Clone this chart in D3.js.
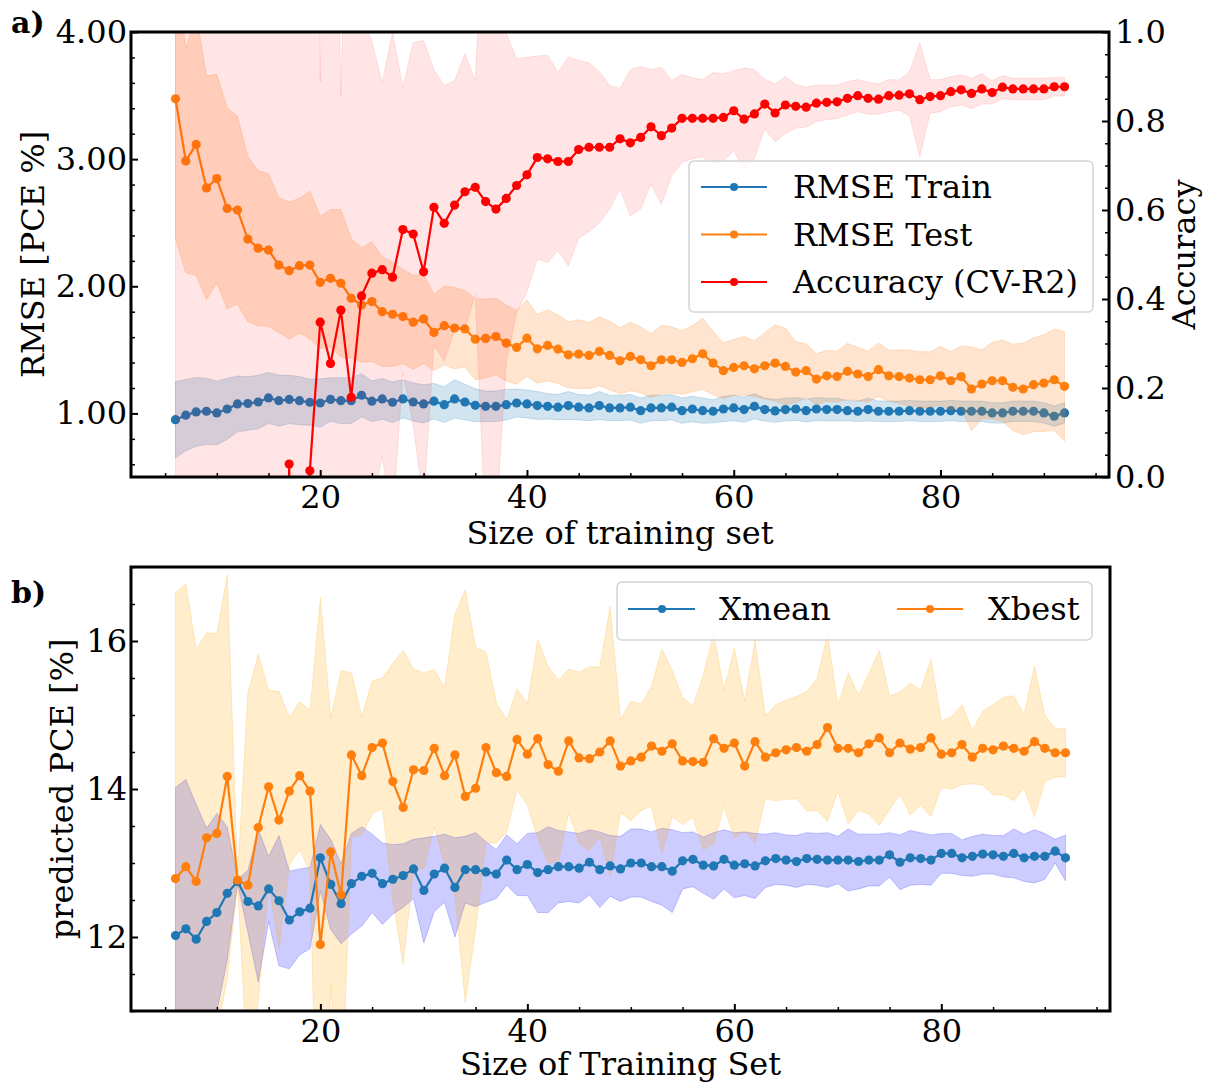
<!DOCTYPE html>
<html><head><meta charset="utf-8">
<script src="https://cdn.jsdelivr.net/npm/d3@7"></script>
<style>
body{margin:0;background:#fff}
svg{display:block}
text{font-family:"DejaVu Serif",serif;fill:#000}
</style>
</head><body>
<svg id="c" width="1208" height="1086"></svg>
<script>
// ---------- data ----------
const trainingSizes = [6,7,8,9,10,11,12,13,14,15,16,17,18,19,20,21,22,23,24,25,26,27,28,29,30,31,32,33,34,35,36,37,38,39,40,41,42,43,44,45,46,47,48,49,50,51,52,53,54,55,56,57,58,59,60,61,62,63,64,65,66,67,68,69,70,71,72,73,74,75,76,77,78,79,80,81,82,83,84,85,86,87,88,89,90,91,92];

const rmseTrain = [0.951,0.986,1.012,1.017,1.004,1.035,1.075,1.078,1.090,1.122,
 1.100,1.110,1.100,1.088,1.082,1.110,1.100,1.100,1.143,1.096,
 1.114,1.088,1.114,1.090,1.075,1.096,1.069,1.114,1.090,1.064,
 1.056,1.056,1.069,1.082,1.075,1.062,1.056,1.049,1.062,1.049,
 1.043,1.062,1.043,1.043,1.049,1.022,1.043,1.043,1.049,1.022,
 1.035,1.022,1.017,1.035,1.043,1.030,1.056,1.030,1.020,1.030,
 1.035,1.022,1.035,1.030,1.030,1.022,1.017,1.030,1.017,1.017,
 1.017,1.022,1.017,1.017,1.017,1.022,1.017,1.017,1.017,1.004,
 1.004,1.017,1.017,1.017,1.004,0.978,1.004];
const rmseTrainStd = [0.30,0.28,0.27,0.26,0.25,0.24,0.22,0.21,0.21,0.20,
 0.20,0.19,0.19,0.18,0.19,0.17,0.18,0.18,0.17,0.16,
 0.16,0.16,0.15,0.15,0.15,0.14,0.14,0.15,0.14,0.13,
 0.12,0.12,0.12,0.11,0.11,0.11,0.10,0.10,0.11,0.10,
 0.10,0.11,0.10,0.10,0.10,0.10,0.10,0.10,0.10,0.10,
 0.10,0.10,0.09,0.10,0.10,0.10,0.10,0.09,0.09,0.09,
 0.09,0.09,0.09,0.09,0.09,0.08,0.08,0.09,0.08,0.08,
 0.08,0.08,0.08,0.08,0.08,0.08,0.08,0.08,0.08,0.08,
 0.08,0.08,0.08,0.08,0.08,0.08,0.08];

const rmseTest = [3.475,2.986,3.116,2.774,2.847,2.612,2.600,2.371,2.300,2.285,
 2.167,2.123,2.162,2.167,2.031,2.063,2.024,1.906,1.853,1.880,
 1.800,1.780,1.762,1.718,1.743,1.637,1.690,1.671,1.665,1.584,
 1.590,1.605,1.553,1.519,1.592,1.508,1.535,1.506,1.461,1.467,
 1.456,1.488,1.456,1.414,1.448,1.422,1.375,1.422,1.422,1.401,
 1.430,1.469,1.396,1.336,1.362,1.375,1.351,1.375,1.396,1.370,
 1.325,1.336,1.270,1.296,1.290,1.331,1.310,1.290,1.344,1.296,
 1.290,1.278,1.265,1.265,1.296,1.257,1.290,1.192,1.231,1.257,
 1.257,1.205,1.192,1.226,1.239,1.265,1.213];
const rmseTestStd = [1.10,0.88,1.03,0.88,0.82,0.79,0.74,0.65,0.61,0.60,
 0.53,0.54,0.53,0.58,0.52,0.54,0.58,0.47,0.45,0.47,
 0.43,0.41,0.37,0.37,0.35,0.30,0.31,0.32,0.30,0.32,
 0.31,0.30,0.30,0.29,0.30,0.27,0.28,0.27,0.26,0.27,
 0.26,0.27,0.27,0.26,0.27,0.26,0.25,0.27,0.26,0.25,
 0.26,0.28,0.25,0.22,0.22,0.23,0.22,0.26,0.30,0.30,
 0.24,0.21,0.20,0.20,0.20,0.22,0.21,0.20,0.21,0.20,
 0.21,0.22,0.22,0.22,0.23,0.23,0.24,0.33,0.27,0.30,
 0.32,0.34,0.36,0.37,0.38,0.40,0.43];

const accuracyCV = [-9.5,-8.0,-7.2,-6.5,-6.0,-5.4,-5.0,-4.6,-4.1,-3.8,
 -3.2,0.029,-2.6,0.014,0.348,0.255,0.375,0.179,0.407,0.458,
 0.466,0.449,0.556,0.546,0.461,0.606,0.570,0.611,0.641,0.651,
 0.619,0.602,0.626,0.655,0.679,0.718,0.715,0.709,0.709,0.736,
 0.741,0.741,0.741,0.760,0.751,0.763,0.787,0.767,0.784,0.806,
 0.806,0.806,0.806,0.808,0.823,0.804,0.816,0.838,0.818,0.836,
 0.833,0.831,0.840,0.842,0.843,0.851,0.857,0.851,0.849,0.857,
 0.858,0.861,0.848,0.855,0.857,0.866,0.870,0.862,0.872,0.864,
 0.876,0.872,0.872,0.872,0.872,0.877,0.877];
const accuracyStd = [10.5,9.0,8.2,7.5,7.0,6.4,6.0,5.6,5.1,4.8,
 4.2,3.0,3.6,2.8,0.54,2.0,0.48,1.6,0.64,0.52,
 0.42,0.55,0.32,0.43,0.52,0.31,0.31,0.28,0.31,0.24,
 0.75,0.70,0.37,0.285,0.264,0.228,0.233,0.20,0.235,0.20,
 0.19,0.17,0.139,0.113,0.164,0.16,0.129,0.154,0.107,0.099,
 0.091,0.087,0.103,0.098,0.09,0.115,0.10,0.056,0.065,0.064,
 0.049,0.045,0.041,0.039,0.0375,0.0375,0.036,0.036,0.034,0.036,
 0.034,0.049,0.128,0.0375,0.036,0.034,0.034,0.034,0.034,0.026,
 0.026,0.024,0.024,0.024,0.024,0.021,0.021];

const xMean = [12.02,12.11,11.97,12.21,12.33,12.59,12.75,12.48,12.42,12.65,
 12.49,12.23,12.34,12.39,13.07,12.71,12.45,12.72,12.82,12.86,
 12.72,12.78,12.83,12.92,12.63,12.85,12.93,12.67,12.91,12.91,
 12.88,12.85,13.04,12.91,12.98,12.87,12.91,12.95,12.95,12.93,
 13.01,12.91,12.96,12.92,13.00,13.00,12.95,12.95,12.89,13.03,
 13.05,12.97,12.96,13.05,12.97,12.99,12.96,13.03,13.06,13.04,
 13.02,13.06,13.05,13.04,13.04,13.04,13.02,13.04,13.04,13.11,
 13.01,13.07,13.06,13.04,13.13,13.13,13.07,13.09,13.12,13.11,
 13.09,13.13,13.07,13.09,13.09,13.16,13.07];
const xMeanStd = [2.00,2.02,1.82,1.26,1.34,0.90,0.03,0.42,1.03,0.44,
 0.88,0.66,0.58,0.55,0.45,0.61,0.54,0.68,0.67,0.53,
 0.55,0.47,0.43,0.40,0.71,0.51,0.46,0.67,0.45,0.50,
 0.41,0.33,0.34,0.35,0.42,0.54,0.58,0.49,0.47,0.47,
 0.44,0.51,0.41,0.44,0.46,0.46,0.47,0.52,0.56,0.38,
 0.37,0.38,0.45,0.40,0.44,0.43,0.44,0.36,0.35,0.34,
 0.35,0.35,0.35,0.37,0.32,0.42,0.37,0.35,0.35,0.30,
 0.37,0.37,0.35,0.34,0.27,0.27,0.24,0.27,0.27,0.26,
 0.28,0.33,0.32,0.36,0.31,0.16,0.31];

const xBest = [12.79,12.95,12.75,13.34,13.40,14.17,12.77,12.70,13.48,14.03,
 13.58,13.97,14.18,13.97,11.90,13.15,12.57,14.46,14.18,14.56,
 14.62,14.10,13.75,14.26,14.25,14.55,14.18,14.46,13.90,14.01,
 14.56,14.22,14.17,14.67,14.47,14.68,14.33,14.24,14.65,14.42,
 14.41,14.50,14.65,14.31,14.38,14.43,14.58,14.51,14.61,14.38,
 14.37,14.36,14.68,14.55,14.62,14.31,14.64,14.43,14.49,14.53,
 14.56,14.51,14.60,14.83,14.55,14.55,14.49,14.61,14.69,14.49,
 14.62,14.54,14.56,14.69,14.47,14.49,14.60,14.43,14.55,14.53,
 14.58,14.55,14.51,14.64,14.55,14.49,14.49];
const xBestStd = [3.86,3.82,3.14,2.77,2.70,2.73,0.05,2.60,2.34,1.30,
 1.74,1.00,1.00,1.10,4.69,1.81,3.03,1.11,0.80,0.90,
 0.88,1.60,2.12,1.36,1.32,1.06,1.20,1.90,2.79,1.91,
 1.29,0.95,0.76,0.68,0.69,1.34,1.33,1.23,0.97,1.16,
 1.24,1.15,1.82,0.63,0.81,0.72,0.81,1.38,0.99,0.86,
 0.75,1.18,1.42,0.79,1.28,0.88,1.37,0.56,0.65,0.67,
 0.69,0.81,0.89,1.27,0.58,1.02,0.78,0.95,1.18,0.77,
 0.69,0.89,0.78,1.06,0.45,0.49,0.54,0.36,0.50,0.61,
 0.66,0.71,0.50,1.02,0.45,0.33,0.32];

const rmseTicks = [1, 2, 3, 4];
const accTicks = [0, 0.2, 0.4, 0.6, 0.8, 1.0];
const sizeTicks = [20, 40, 60, 80];
const pceTicks = [12, 14, 16];
const legendA = ["RMSE Train", "RMSE Test", "Accuracy (CV-R2)"];
const legendB = ["Xmean", "Xbest"];

// ---------- drawing ----------
const C = {blue:"#1f77b4", orange:"#ff7f0e", red:"#ff0000", bandBlue:"#0000ff", bandOrange:"#ffa500"};
const FS = 32;
const svg = d3.select("#c");
svg.append("rect").attr("width",1208).attr("height",1086).attr("fill","#fff");

const A = {x0:131, x1:1109, y0:32, y1:477};
const B = {x0:131, x1:1110, y0:567, y1:1011};

const xA = d3.scaleLinear().domain([1.7, 96.3]).range([A.x0, A.x1]);
const xB = d3.scaleLinear().domain([1.7, 96.3]).range([B.x0, B.x1]);
const yA = d3.scaleLinear().domain([0.5, 4.0]).range([A.y1, A.y0]);
const yAcc = d3.scaleLinear().domain([0, 1]).range([A.y1, A.y0]);
const yB = d3.scaleLinear().domain([11, 17]).range([B.y1, B.y0]);

const defs = svg.append("defs");
defs.append("clipPath").attr("id","clipA").append("rect")
  .attr("x",A.x0).attr("y",A.y0).attr("width",A.x1-A.x0).attr("height",A.y1-A.y0);
defs.append("clipPath").attr("id","clipB").append("rect")
  .attr("x",B.x0).attr("y",B.y0).attr("width",B.x1-B.x0).attr("height",B.y1-B.y0);

function band(g, xs, ys, mean, std, color, op) {
  const area = d3.area()
    .x((d,i)=>xs(trainingSizes[i]))
    .y0((d,i)=>ys(mean[i]-std[i]))
    .y1((d,i)=>ys(mean[i]+std[i]));
  g.append("path").datum(mean).attr("d", area)
    .attr("fill", color).attr("fill-opacity", op)
    .attr("stroke", color).attr("stroke-opacity", op).attr("stroke-width", 1);
}
function series(g, xs, ys, vals, color) {
  const line = d3.line().x((d,i)=>xs(trainingSizes[i])).y(d=>ys(d));
  g.append("path").datum(vals).attr("d", line)
    .attr("fill","none").attr("stroke",color).attr("stroke-width",2.2).attr("stroke-linejoin","round");
  g.selectAll(null).data(vals).join("circle")
    .attr("cx",(d,i)=>xs(trainingSizes[i])).attr("cy",d=>ys(d))
    .attr("r",4.6).attr("fill",color);
}

// Panel a
const gA = svg.append("g").attr("clip-path","url(#clipA)");
band(gA, xA, yA, rmseTrain, rmseTrainStd, C.blue, 0.2);
series(gA, xA, yA, rmseTrain, C.blue);
band(gA, xA, yA, rmseTest, rmseTestStd, C.orange, 0.2);
series(gA, xA, yA, rmseTest, C.orange);
band(gA, xA, yAcc, accuracyCV, accuracyStd, C.red, 0.1);
series(gA, xA, yAcc, accuracyCV, C.red);

// Panel b
const gB = svg.append("g").attr("clip-path","url(#clipB)");
band(gB, xB, yB, xMean, xMeanStd, C.bandBlue, 0.2);
band(gB, xB, yB, xBest, xBestStd, C.bandOrange, 0.2);
series(gB, xB, yB, xMean, C.blue);
series(gB, xB, yB, xBest, C.orange);

// axes helper
function styleAxis(g, majorW) {
  g.select(".domain").remove();
  g.selectAll("text").attr("font-size", FS).attr("font-family","DejaVu Serif").attr("fill","#000");
  g.selectAll(".tick line").attr("stroke","#000").attr("stroke-width", majorW);
}
function minorRange(lo, hi, step, majors) {
  return d3.range(Math.ceil(lo/step - 1e-9), Math.floor(hi/step + 1e-9) + 1)
    .map(k => +(k*step).toFixed(6))
    .filter(v => !majors.some(m => Math.abs(m - v) < 1e-6));
}

// panel a left
let g;
g = svg.append("g").attr("transform",`translate(${A.x0},0)`)
  .call(d3.axisLeft(yA).tickValues(rmseTicks).tickSize(-7).tickPadding(4).tickFormat(d3.format(".2f")));
styleAxis(g, 2);
g = svg.append("g").attr("transform",`translate(${A.x0},0)`)
  .call(d3.axisLeft(yA).tickValues(minorRange(0.5,4.0,0.2,rmseTicks)).tickSize(-4).tickFormat(""));
styleAxis(g, 1.5);
// panel a right
g = svg.append("g").attr("transform",`translate(${A.x1},0)`)
  .call(d3.axisRight(yAcc).tickValues(accTicks).tickSize(-7).tickPadding(6).tickFormat(d3.format(".1f")));
styleAxis(g, 2);
g = svg.append("g").attr("transform",`translate(${A.x1},0)`)
  .call(d3.axisRight(yAcc).tickValues(minorRange(0,1,0.05,accTicks)).tickSize(-4).tickFormat(""));
styleAxis(g, 1.5);
// panel a bottom
g = svg.append("g").attr("transform",`translate(0,${A.y1})`)
  .call(d3.axisBottom(xA).tickValues(sizeTicks).tickSize(-7).tickPadding(8).tickFormat(d3.format("d")));
styleAxis(g, 2);
g = svg.append("g").attr("transform",`translate(0,${A.y1})`)
  .call(d3.axisBottom(xA).tickValues(minorRange(1.7,96.3,5,sizeTicks)).tickSize(-4).tickFormat(""));
styleAxis(g, 1.5);

// panel b left
g = svg.append("g").attr("transform",`translate(${B.x0},0)`)
  .call(d3.axisLeft(yB).tickValues(pceTicks).tickSize(-7).tickPadding(4).tickFormat(d3.format("d")));
styleAxis(g, 2);
g = svg.append("g").attr("transform",`translate(${B.x0},0)`)
  .call(d3.axisLeft(yB).tickValues(minorRange(11,17,0.5,pceTicks)).tickSize(-4).tickFormat(""));
styleAxis(g, 1.5);
// panel b bottom
g = svg.append("g").attr("transform",`translate(0,${B.y1})`)
  .call(d3.axisBottom(xB).tickValues(sizeTicks).tickSize(-7).tickPadding(8).tickFormat(d3.format("d")));
styleAxis(g, 2);
g = svg.append("g").attr("transform",`translate(0,${B.y1})`)
  .call(d3.axisBottom(xB).tickValues(minorRange(1.7,96.3,5,sizeTicks)).tickSize(-4).tickFormat(""));
styleAxis(g, 1.5);

// frames
[A,B].forEach(P => svg.append("rect").attr("x",P.x0).attr("y",P.y0)
  .attr("width",P.x1-P.x0).attr("height",P.y1-P.y0)
  .attr("fill","none").attr("stroke","#000").attr("stroke-width",3));

// axis labels
function label(txt, x, y, rot, anchor="middle", weight="normal", fs=FS) {
  svg.append("text").text(txt).attr("font-size",fs).attr("font-weight",weight)
    .attr("text-anchor",anchor)
    .attr("transform",`translate(${x},${y}) rotate(${rot})`);
}
label("RMSE [PCE %]", 44, (A.y0+A.y1)/2, -90);
label("Accuracy", 1195, (A.y0+A.y1)/2, -90);
label("Size of training set", (A.x0+A.x1)/2, 544, 0);
label("predicted PCE [%]", 73, (B.y0+B.y1)/2, -90);
label("Size of Training Set", (B.x0+B.x1)/2, 1075, 0);
label("a)", 11, 33, 0, "start", "bold", 30);
label("b)", 11, 603, 0, "start", "bold", 30);

// legend a
const colorsA = [C.blue, C.orange, C.red];
svg.append("rect").attr("x",689).attr("y",161).attr("width",404).attr("height",151).attr("rx",5)
  .attr("fill","#fff").attr("fill-opacity",0.8).attr("stroke","#d4d4d4").attr("stroke-width",1.5);
legendA.forEach((t,i) => {
  const cy = 187 + i*47.5;
  svg.append("line").attr("x1",701).attr("x2",767).attr("y1",cy).attr("y2",cy)
    .attr("stroke",colorsA[i]).attr("stroke-width",2.2);
  svg.append("circle").attr("cx",734).attr("cy",cy).attr("r",4).attr("fill",colorsA[i]);
  svg.append("text").text(t).attr("x",793).attr("y",cy+11).attr("font-size",FS);
});
// legend b
const colorsB = [C.blue, C.orange];
const legBx = [[628,695,662,719],[897,963,930,988]];
svg.append("rect").attr("x",617).attr("y",582).attr("width",475).attr("height",58).attr("rx",5)
  .attr("fill","#fff").attr("fill-opacity",0.8).attr("stroke","#d4d4d4").attr("stroke-width",1.5);
legendB.forEach((t,i) => {
  const cy = 609, p = legBx[i];
  svg.append("line").attr("x1",p[0]).attr("x2",p[1]).attr("y1",cy).attr("y2",cy)
    .attr("stroke",colorsB[i]).attr("stroke-width",2.2);
  svg.append("circle").attr("cx",p[2]).attr("cy",cy).attr("r",4).attr("fill",colorsB[i]);
  svg.append("text").text(t).attr("x",p[3]).attr("y",cy+11).attr("font-size",FS);
});
</script>
</body></html>
